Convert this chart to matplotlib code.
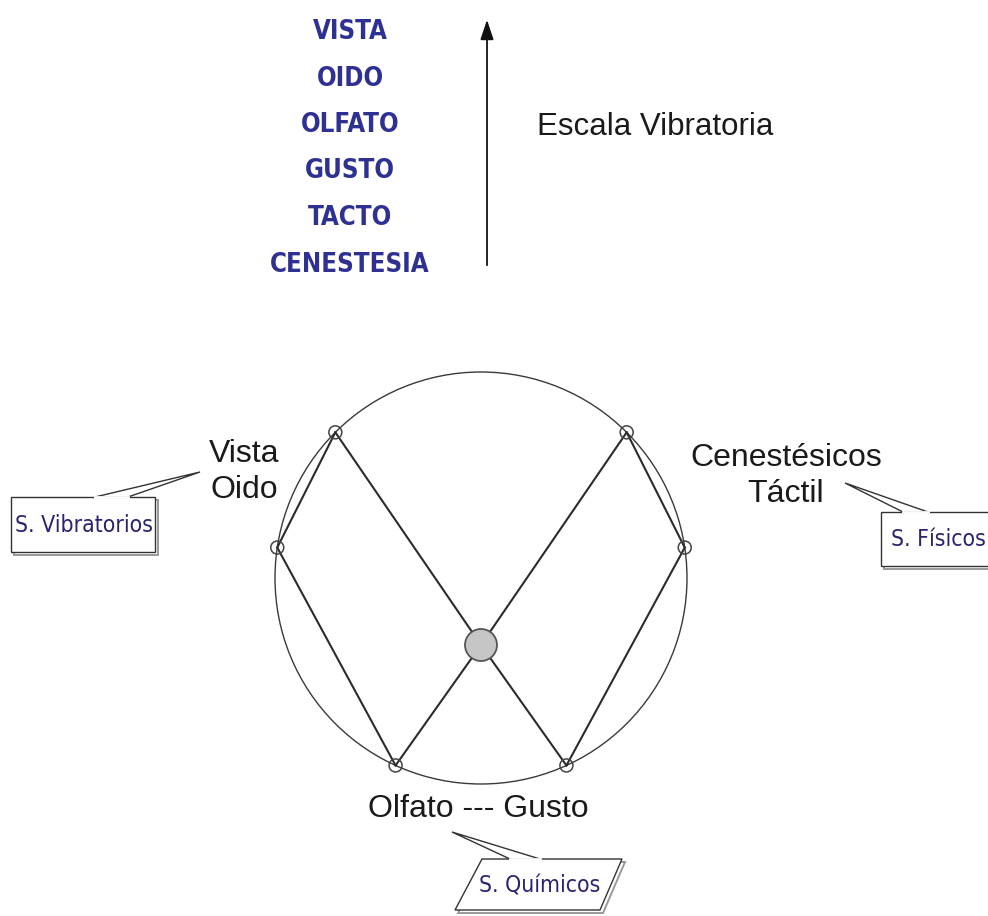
import matplotlib.pyplot as plt
import numpy as np
from matplotlib.patches import Circle, Polygon

# escala vibratoria (de arriba hacia abajo)
sentidos = ['VISTA', 'OIDO', 'OLFATO', 'GUSTO', 'TACTO', 'CENESTESIA']
escala_titulo = 'Escala Vibratoria'

# nodos sobre la circunferencia (angulos en grados)
node_angles = [135, 171.5, 245.5, 294.5, 8.5, 45]
chords = [(0, 1), (1, 2), (3, 4), (4, 5)]
hub_links = [0, 2, 3, 5]

grupos = ['Vista\nOido', 'Cenestésicos\nTáctil', 'Olfato --- Gusto']
callouts = ['S. Vibratorios', 'S. Físicos', 'S. Químicos']

blue = '#2e3192'
navy = '#2a2470'
dark = '#2b2b2b'
narrow = ['DejaVu Sans']
sans = ['Liberation Sans', 'DejaVu Sans']

fig = plt.figure(figsize=(9.88, 9.16), dpi=100)
ax = fig.add_axes([0, 0, 1, 1])
ax.set_xlim(0, 988)
ax.set_ylim(916, 0)
ax.axis('off')

# --- escala vibratoria ---
for i, s in enumerate(sentidos):
    ax.text(350, 32 + i * 46.5, s, ha='center', va='center', color=blue,
            fontsize=18.5, fontweight='bold', family=narrow, fontstretch='condensed')
ax.annotate('', xy=(487, 17), xytext=(487, 268),
            arrowprops=dict(arrowstyle='-|>,head_length=1.2,head_width=0.4',
                            color='#111111', lw=1.3))
ax.text(537, 127, escala_titulo, ha='left', va='center', fontsize=22.5,
        color='#1a1a1a', family=sans)

# --- circulo ---
cx, cy, r = 481, 578, 206
ax.add_patch(Circle((cx, cy), r, fill=False, ec='#3a3a3a', lw=1.0))
ang = np.radians(node_angles)
nx = cx + r * np.cos(ang)
ny = cy - r * np.sin(ang)
hub = (481, 645)

for a, b in chords:
    ax.plot([nx[a], nx[b]], [ny[a], ny[b]], color=dark, lw=1.5)
for k in hub_links:
    ax.plot([nx[k], hub[0]], [ny[k], hub[1]], color=dark, lw=1.5)
for x, y in zip(nx, ny):
    ax.add_patch(Circle((x, y), 6.5, fill=False, ec='#444444', lw=1.1, zorder=3))
ax.add_patch(Circle(hub, 16, fc='#c6c6c6', ec='#555555', lw=1.3, zorder=4))

# --- etiquetas de grupos ---
ax.text(244, 472, grupos[0], ha='center', va='center', fontsize=23,
        color='#1a1a1a', family=sans, linespacing=1.25)
ax.text(786, 476, grupos[1], ha='center', va='center', fontsize=23,
        color='#1a1a1a', family=sans, linespacing=1.25)
ax.text(478, 809, grupos[2], ha='center', va='center', fontsize=23,
        color='#1a1a1a', family=sans)


def callout(box, tip, base, text, tx, ty):
    # sombra
    sh = np.array(box) + [3, 3]
    ax.add_patch(Polygon(sh, closed=True, fc='none', ec='#9a9a9a', lw=1.4))
    ax.add_patch(Polygon(box, closed=True, fc='white', ec='#333333', lw=1.0))
    ax.add_patch(Polygon([base[0], tip, base[1]], closed=True, fc='white',
                         ec='#333333', lw=1.0))
    ax.plot([base[0][0], base[1][0]], [base[0][1], base[1][1]], color='white', lw=2)
    ax.text(tx, ty, text, ha='center', va='center', color=navy, fontsize=16.5,
            family=narrow, fontstretch='condensed')


callout([(11, 497), (155, 497), (155, 552), (11, 552)], (200, 472),
        [(95, 497), (128, 497)], callouts[0], 84, 525)
callout([(881, 512), (1000, 512), (1000, 566), (881, 566)], (845, 483),
        [(903, 512), (928, 512)], callouts[1], 938, 540)
callout([(482, 859), (622, 859), (600, 910), (455, 910)], (452, 832),
        [(510, 859), (540, 859)], callouts[2], 540, 886)

fig.savefig('out.png', dpi=100)
